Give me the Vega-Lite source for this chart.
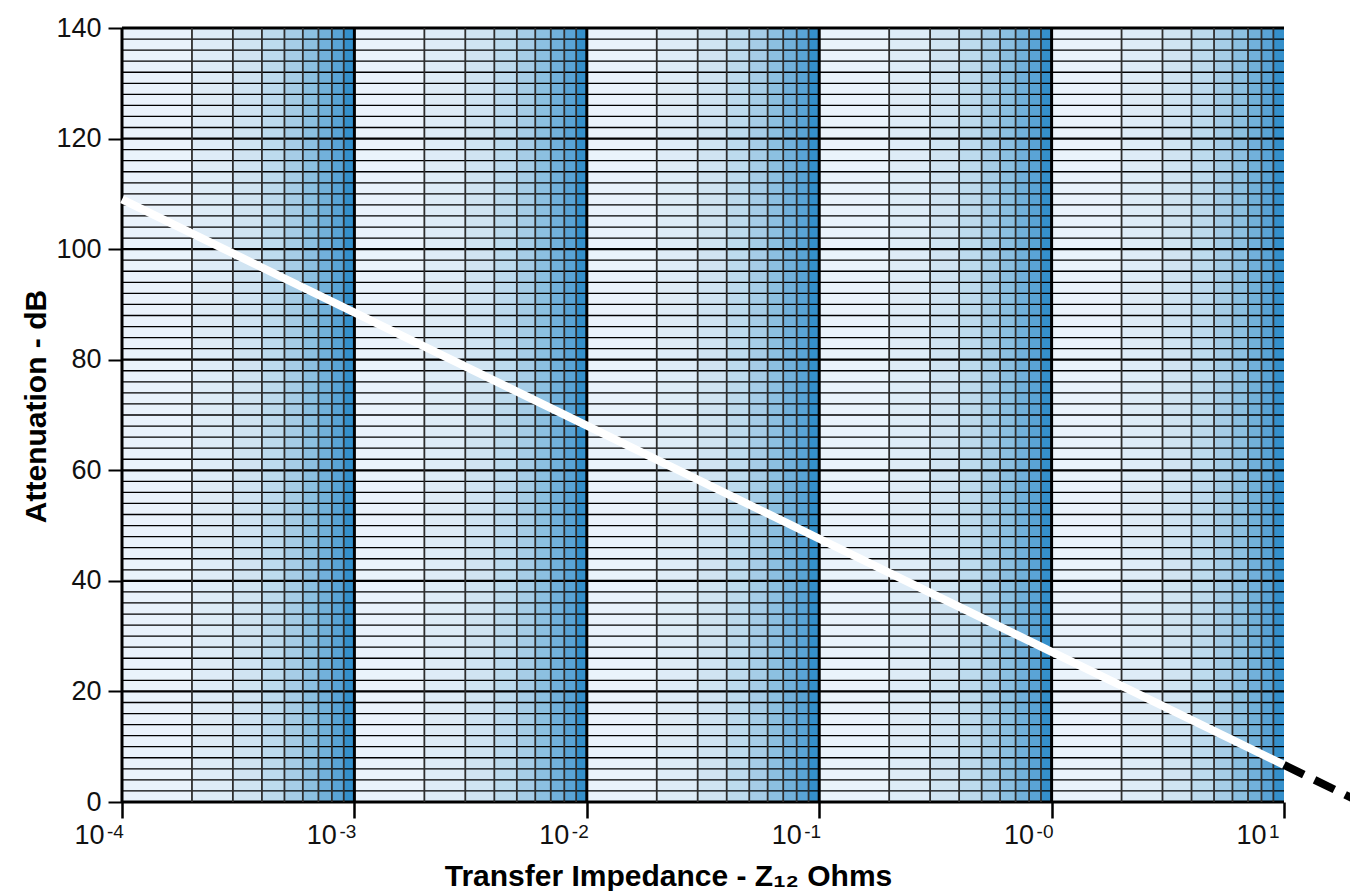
{
  "$schema": "https://vega.github.io/schema/vega-lite/v6.json",
  "width": 1162,
  "height": 774,
  "autosize": {"type": "none"},
  "padding": {"left": 122, "top": 28, "right": 66, "bottom": 89},
  "background": "white",
  "config": {"view": {"stroke": null}, "font": "Liberation Sans"},
  "datasets": {
    "cells": [
      {"lo": 0.0001, "hi": 0.0002, "d": 1}, {"lo": 0.0002, "hi": 0.0003, "d": 2}, {"lo": 0.0003, "hi": 0.0004, "d": 3}, {"lo": 0.0004, "hi": 0.0005, "d": 4}, {"lo": 0.0005, "hi": 0.0006, "d": 5}, {"lo": 0.0006, "hi": 0.0007, "d": 6}, {"lo": 0.0007, "hi": 0.0008, "d": 7}, {"lo": 0.0008, "hi": 0.0009, "d": 8}, {"lo": 0.0009, "hi": 0.001, "d": 9},
      {"lo": 0.001, "hi": 0.002, "d": 1}, {"lo": 0.002, "hi": 0.003, "d": 2}, {"lo": 0.003, "hi": 0.004, "d": 3}, {"lo": 0.004, "hi": 0.005, "d": 4}, {"lo": 0.005, "hi": 0.006, "d": 5}, {"lo": 0.006, "hi": 0.007, "d": 6}, {"lo": 0.007, "hi": 0.008, "d": 7}, {"lo": 0.008, "hi": 0.009, "d": 8}, {"lo": 0.009, "hi": 0.01, "d": 9},
      {"lo": 0.01, "hi": 0.02, "d": 1}, {"lo": 0.02, "hi": 0.03, "d": 2}, {"lo": 0.03, "hi": 0.04, "d": 3}, {"lo": 0.04, "hi": 0.05, "d": 4}, {"lo": 0.05, "hi": 0.06, "d": 5}, {"lo": 0.06, "hi": 0.07, "d": 6}, {"lo": 0.07, "hi": 0.08, "d": 7}, {"lo": 0.08, "hi": 0.09, "d": 8}, {"lo": 0.09, "hi": 0.1, "d": 9},
      {"lo": 0.1, "hi": 0.2, "d": 1}, {"lo": 0.2, "hi": 0.3, "d": 2}, {"lo": 0.3, "hi": 0.4, "d": 3}, {"lo": 0.4, "hi": 0.5, "d": 4}, {"lo": 0.5, "hi": 0.6, "d": 5}, {"lo": 0.6, "hi": 0.7, "d": 6}, {"lo": 0.7, "hi": 0.8, "d": 7}, {"lo": 0.8, "hi": 0.9, "d": 8}, {"lo": 0.9, "hi": 1, "d": 9},
      {"lo": 1, "hi": 2, "d": 1}, {"lo": 2, "hi": 3, "d": 2}, {"lo": 3, "hi": 4, "d": 3}, {"lo": 4, "hi": 5, "d": 4}, {"lo": 5, "hi": 6, "d": 5}, {"lo": 6, "hi": 7, "d": 6}, {"lo": 7, "hi": 8, "d": 7}, {"lo": 8, "hi": 9, "d": 8}, {"lo": 9, "hi": 10, "d": 9}
    ],
    "hlines": [
      {"y": 0}, {"y": 2}, {"y": 4}, {"y": 6}, {"y": 8}, {"y": 10}, {"y": 12}, {"y": 14}, {"y": 16}, {"y": 18},
      {"y": 20}, {"y": 22}, {"y": 24}, {"y": 26}, {"y": 28}, {"y": 30}, {"y": 32}, {"y": 34}, {"y": 36}, {"y": 38},
      {"y": 40}, {"y": 42}, {"y": 44}, {"y": 46}, {"y": 48}, {"y": 50}, {"y": 52}, {"y": 54}, {"y": 56}, {"y": 58},
      {"y": 60}, {"y": 62}, {"y": 64}, {"y": 66}, {"y": 68}, {"y": 70}, {"y": 72}, {"y": 74}, {"y": 76}, {"y": 78},
      {"y": 80}, {"y": 82}, {"y": 84}, {"y": 86}, {"y": 88}, {"y": 90}, {"y": 92}, {"y": 94}, {"y": 96}, {"y": 98},
      {"y": 100}, {"y": 102}, {"y": 104}, {"y": 106}, {"y": 108}, {"y": 110}, {"y": 112}, {"y": 114}, {"y": 116}, {"y": 118},
      {"y": 120}, {"y": 122}, {"y": 124}, {"y": 126}, {"y": 128}, {"y": 130}, {"y": 132}, {"y": 134}, {"y": 136}, {"y": 138},
      {"y": 140}
    ],
    "solid": [{"z": 0.0001, "a": 109}, {"z": 10, "a": 6.7}],
    "dashed": [{"z": 10, "a": 6.7}, {"z": 21, "a": 0.1}],
    "exps": [
      {"z": 0.0001, "e": "-4"}, {"z": 0.001, "e": "-3"}, {"z": 0.01, "e": "-2"},
      {"z": 0.1, "e": "-1"}, {"z": 1, "e": "-0"}, {"z": 10, "e": "1"}
    ]
  },
  "layer": [
    {
      "data": {"name": "cells"},
      "mark": {"type": "rect", "stroke": null},
      "encoding": {
        "x": {
          "field": "lo", "type": "quantitative",
          "scale": {"type": "log", "domain": [0.0001, 10], "nice": false},
          "axis": {
            "values": [0.0001, 0.001, 0.01, 0.1, 1, 10],
            "labelExpr": "'10'",
            "labelAlign": "right",
            "labelOffset": -18,
            "labelBaseline": "alphabetic",
            "labelPadding": 25,
            "labelFontSize": 27,
            "labelColor": "#111",
            "tickSize": 16,
            "tickWidth": 2.5,
            "tickColor": "black",
            "domain": false,
            "grid": false,
            "title": "Transfer Impedance - Z₁₂ Ohms",
            "titleFontSize": 30,
            "titleFontWeight": "bold",
            "titleColor": "black",
            "titleBaseline": "alphabetic",
            "titleAlign": "center",
            "titleX": 546,
            "titleY": 83
          }
        },
        "x2": {"field": "hi"},
        "y": {
          "datum": 0, "type": "quantitative",
          "scale": {"domain": [0, 140], "nice": false},
          "axis": {
            "values": [0, 20, 40, 60, 80, 100, 120, 140],
            "labelFontSize": 27,
            "labelColor": "#111",
            "labelPadding": 7,
            "tickSize": 14,
            "tickWidth": 2,
            "tickColor": "black",
            "domain": false,
            "grid": false,
            "title": "Attenuation - dB",
            "titleFontSize": 30,
            "titleFontWeight": "bold",
            "titleColor": "black",
            "titleAngle": -90,
            "titleBaseline": "alphabetic",
            "titleAlign": "center",
            "titleX": -77,
            "titleY": 378
          }
        },
        "y2": {"datum": 140},
        "color": {
          "field": "d", "type": "ordinal",
          "scale": {
            "domain": [1, 2, 3, 4, 5, 6, 7, 8, 9],
            "range": ["#eaf3fb", "#deecf7", "#d0e4f2", "#bddbee", "#a6cde7", "#8cc0e1", "#72b1db", "#5aa4d6", "#3590cb"]
          },
          "legend": null
        }
      }
    },
    {
      "data": {"name": "hlines"},
      "mark": {"type": "rule", "color": "black"},
      "encoding": {
        "y": {"field": "y", "type": "quantitative"},
        "strokeWidth": {
          "condition": [
            {"test": "datum.y === 0 || datum.y === 140", "value": 3},
            {"test": "datum.y % 20 === 0", "value": 2.2}
          ],
          "value": 1.3
        }
      }
    },
    {
      "data": {"name": "cells"},
      "mark": {"type": "rule"},
      "encoding": {
        "x": {"field": "lo", "type": "quantitative"},
        "color": {"condition": {"test": "datum.d === 1", "value": "black"}, "value": "#2e2e2e"},
        "strokeWidth": {"condition": {"test": "datum.d === 1", "value": 3}, "value": 1.8}
      }
    },
    {
      "mark": {"type": "rule", "color": "black", "strokeWidth": 3},
      "encoding": {"x": {"datum": 10}}
    },
    {
      "data": {"name": "solid"},
      "mark": {"type": "line", "color": "white", "strokeWidth": 8, "strokeCap": "butt"},
      "encoding": {
        "x": {"field": "z", "type": "quantitative"},
        "y": {"field": "a", "type": "quantitative"}
      }
    },
    {
      "data": {"name": "dashed"},
      "mark": {"type": "line", "color": "black", "strokeWidth": 8, "strokeCap": "butt", "strokeDash": [22, 12], "clip": false},
      "encoding": {
        "x": {"field": "z", "type": "quantitative"},
        "y": {"field": "a", "type": "quantitative"}
      }
    },
    {
      "data": {"name": "exps"},
      "mark": {"type": "text", "align": "left", "baseline": "alphabetic", "dx": -15, "dy": 36, "fontSize": 19, "color": "#111"},
      "encoding": {
        "x": {"field": "z", "type": "quantitative"},
        "y": {"datum": 0},
        "text": {"field": "e"}
      }
    }
  ]
}
